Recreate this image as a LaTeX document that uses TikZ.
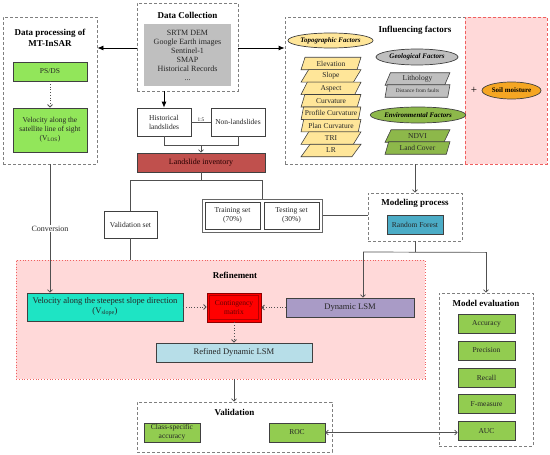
\documentclass[tikz,border=0pt]{standalone}
\usepackage{fontspec}
\setmainfont{Liberation Serif}
\usetikzlibrary{shapes.geometric,arrows.meta}
\definecolor{dashgray}{HTML}{7F7F7F}
\definecolor{boxline}{HTML}{404040}
\definecolor{lin}{HTML}{505050}
\definecolor{txt}{HTML}{262626}
\definecolor{psgreen}{HTML}{92E65A}
\definecolor{dcgray}{HTML}{BFBFBF}
\definecolor{invred}{HTML}{C0504D}
\definecolor{rfblue}{HTML}{4BACC6}
\definecolor{pinkbg}{HTML}{FFD9D9}
\definecolor{pinkline}{HTML}{F06060}
\definecolor{turq}{HTML}{1EE4C4}
\definecolor{purp}{HTML}{A99BC6}
\definecolor{lblue}{HTML}{B7DEE8}
\definecolor{evgreen}{HTML}{92CC50}
\definecolor{topoyel}{HTML}{FFE699}
\definecolor{envgreen}{HTML}{8DB84A}
\definecolor{soilor}{HTML}{F5A623}
\newcommand\fsT{\fontsize{9}{11}\selectfont}
\newcommand\fsB{\fontsize{7.5}{9}\selectfont}
\newcommand\fsC{\fontsize{8}{9}\selectfont}
\newcommand\fsD{\fontsize{8.6}{10}\selectfont}
\newcommand\fsE{\fontsize{7}{8}\selectfont}
\newcommand\fsS{\fontsize{5.3}{6}\selectfont}
\begin{document}
\begin{tikzpicture}[x=1pt,y=-1pt,
  box/.style={draw=boxline, line width=0.7pt, inner sep=0pt, align=center, text=txt, font=\fsB},
  dbox/.style={draw=dashgray, line width=0.8pt, dash pattern=on 3pt off 2pt, inner sep=0pt},
  ttl/.style={font=\fsT\bfseries, text=black, inner sep=0pt, align=center},
  arr/.style={draw=lin, line width=0.7pt, -{Straight Barb[length=2.5pt,width=5pt]}},
  farr/.style={draw=black, line width=0.8pt, -{Latex[length=6pt,width=5pt]}},
  dotarr/.style={arr, dotted, line width=0.9pt},
  ln/.style={draw=lin, line width=0.7pt},
  para/.style={trapezium, trapezium left angle=67, trapezium right angle=113, trapezium stretches=true, minimum width=60pt, minimum height=12.5pt, inner sep=0pt, draw=boxline, line width=0.6pt, font=\fsB, text=txt},
  ell/.style={ellipse, draw=boxline, line width=0.7pt, inner sep=0pt, font=\fsE\bfseries\itshape, text=black}
]
\useasboundingbox (0,0) rectangle (550,455);

% ---------------- MT-InSAR
\node[dbox, minimum width=94pt, minimum height=147pt] (mt) at (50,90.5) {};
\node[ttl] (mtt) at (50,37.5) {Data processing of\\MT-InSAR};
\node[box, fill=psgreen, minimum width=74pt, minimum height=19pt] (psds) at (50,71.5) {PS/DS};
\node[box, fill=psgreen, minimum width=74pt, minimum height=44pt] (vlos) at (50,130) {Velocity along the\\satellite line of sight\\(V\textsubscript{LOS})};
\draw[dotarr] (psds.south) -- (vlos.north);

% ---------------- Data collection
\node[dbox, minimum width=101pt, minimum height=88pt] (dc) at (187.5,47) {};
\node[ttl] (dct) at (187.5,15) {Data Collection};
\node[draw=none, fill=dcgray, minimum width=87pt, minimum height=62pt, inner sep=0pt, align=center, font=\fsC, text=txt] (dcg) at (187.5,55) {SRTM DEM\\Google Earth images\\Sentinel-1\\SMAP\\Historical Records\\...};

% ---------------- Influencing factors
\node[dbox, minimum width=262pt, minimum height=147pt] (inf) at (416,90.5) {};
\node[fill=pinkbg, draw=pinkline, line width=0.8pt, dash pattern=on 3pt off 2pt, minimum width=82pt, minimum height=147pt, inner sep=0pt] (soilreg) at (506,90.5) {};
\node[ttl] (inft) at (415,30) {Influencing factors};
\node[ell, fill=topoyel, minimum width=83pt, minimum height=15pt] (topo) at (330.5,40.5) {Topographic Factors};
\foreach \t [count=\i from 0] in {Elevation,Slope,Aspect,Curvature,Profile Curvature,Plan Curvature,TRI,LR}{
  \node[para, fill=topoyel] (tp\i) at (331,63.5+12.43*\i) {\t};
}
\node[ell, fill=dcgray, minimum width=82pt, minimum height=16pt] (geo) at (417,57) {Geological Factors};
\node[para, fill=dcgray, minimum width=65pt] (lith) at (417.5,79) {Lithology};
\node[para, fill=dcgray, minimum width=65pt, font=\fsS] (dist) at (417.5,91) {Distance from faults};
\node[ell, fill=envgreen, minimum width=82pt, minimum height=16pt] (env) at (418,115) {Environmental Factors};
\node[para, fill=envgreen, minimum width=65pt] (ndvi) at (417.5,136) {NDVI};
\node[para, fill=envgreen, minimum width=65pt] (lc) at (417.5,148) {Land Cover};
\node[inner sep=0pt, font=\fontsize{11}{12}\selectfont, text=black] (plus) at (474,90) {+};
\node[ellipse, draw=boxline, line width=0.7pt, fill=soilor, inner sep=0pt, minimum width=59pt, minimum height=17pt, font=\fsE\bfseries, text=black] (soil) at (511.5,90.5) {Soil moisture};

\draw[farr] (dc.west |- 0,48) -- (mt.east |- 0,48);
\draw[farr] (dc.east |- 0,48) -- (inf.west |- 0,48);

% ---------------- Landslides
\node[box, fill=white, minimum width=54pt, minimum height=28pt] (hist) at (164,122) {Historical\\landslides};
\node[box, fill=white, minimum width=54pt, minimum height=28pt] (non) at (238,122) {Non-landslides};
\draw[farr] (hist.north |- dc.south) -- (hist.north);
\draw[ln] (hist.east) -- (non.west) node[midway, above=0.5pt, inner sep=0pt, font=\fsS, text=txt] {1:5};
\node[box, fill=invred, minimum width=128pt, minimum height=19pt, text=black!85!red, font=\fsC] (inv) at (201,162.5) {Landslide inventory};
\draw[ln] (hist.south) -- ++(0,9) coordinate (hj) -| (non.south);
\draw[arr] (hj -| inv.north) -- (inv.north);

\node[box, fill=white, minimum width=53pt, minimum height=27pt] (valset) at (130.5,224.5) {Validation set};
\node[draw=boxline!80, line width=1.0pt, fill=white, minimum width=120pt, minimum height=33pt, inner sep=0pt] (sets) at (262,215.5) {};
\node[box, fill=white, minimum width=55pt, minimum height=27pt] (train) at (232.5,215.5) {Training set\\(70\%)};
\node[box, fill=white, minimum width=55pt, minimum height=27pt] (test) at (291.5,215.5) {Testing set\\(30\%)};
\draw[ln] (inv.south) -- ++(0,8) coordinate (ij);
\draw[ln] (valset.north) |- (ij) -| (sets.north);

% ---------------- Modeling
\node[dbox, minimum width=94pt, minimum height=48pt] (model) at (415,217) {};
\node[ttl] (modelt) at (415,203) {Modeling process};
\node[box, fill=rfblue, minimum width=56pt, minimum height=19pt] (rf) at (415,224.5) {Random Forest};
\draw[arr] (model.north |- inf.south) -- (model.north);
\draw[ln] (sets.east) -- (sets.east -| model.west);

% ---------------- Refinement
\node[fill=pinkbg, draw=pinkline, line width=0.8pt, dotted, minimum width=409pt, minimum height=119pt, inner sep=0pt] (refbox) at (220.5,319.5) {};
\node[ttl] (reft) at (235,275) {Refinement};
\node[box, fill=turq, minimum width=156pt, minimum height=28pt, font=\fsD] (vslope) at (105,307) {Velocity along the steepest slope direction\\(V\textsubscript{slope})};
\node[draw=red!55!black, line width=0.7pt, fill=red, minimum width=54pt, minimum height=29pt, inner sep=0pt, align=center, font=\fsB, text=red!40!black,
  path picture={\draw[red!70!black, line width=0.5pt] ([shift={(2.5pt,-2.5pt)}]path picture bounding box.north west) rectangle ([shift={(-2.5pt,2.5pt)}]path picture bounding box.south east);}] (cont) at (234,307.5) {Contingency\\matrix};
\node[box, fill=purp, minimum width=128pt, minimum height=19pt, font=\fsD] (dyn) at (350,307.5) {Dynamic LSM};
\node[box, fill=lblue, minimum width=156pt, minimum height=19pt, font=\fsD] (refined) at (234,352.5) {Refined Dynamic LSM};
\draw[dotarr] (vslope.east) -- (vslope.east -| cont.west);
\draw[dotarr] (dyn.west) -- (cont.east);
\draw[dotarr] (cont.south) -- (refined.north);
\draw[ln] (valset.south) -- (valset.south |- refbox.north);
\draw[arr] (mt.south) -- (mt.south |- vslope.north) node[midway, fill=white, inner sep=1pt, font=\fsC, text=txt] {Conversion};

% ---------------- Model evaluation
\node[dbox, minimum width=94pt, minimum height=153pt] (eval) at (486,369.5) {};
\node[ttl] (evalt) at (486,303) {Model evaluation};
\node[box, fill=evgreen, minimum width=57pt, minimum height=19pt] (acc) at (486.5,323.5) {Accuracy};
\node[box, fill=evgreen, minimum width=57pt, minimum height=19pt] (prec) at (486.5,350.5) {Precision};
\node[box, fill=evgreen, minimum width=57pt, minimum height=19pt] (rec) at (486.5,377.5) {Recall};
\node[box, fill=evgreen, minimum width=57pt, minimum height=19pt] (fm) at (486.5,404) {F-measure};
\node[box, fill=evgreen, minimum width=57pt, minimum height=19pt] (auc) at (486.5,431) {AUC};

\draw[ln] (model.south) -- ++(0,11) coordinate (mj);
\coordinate (dynj) at (363,252);
\draw[ln] (dynj) -- (mj -| eval.north);
\draw[arr] (dynj) -- (dynj |- dyn.north);
\draw[arr] (mj -| eval.north) -- (eval.north);

% ---------------- Validation
\node[dbox, minimum width=195pt, minimum height=50pt] (val) at (234.5,427) {};
\node[ttl] (valt) at (234.5,412) {Validation};
\node[box, fill=evgreen, minimum width=56pt, minimum height=19pt] (csa) at (172,432.5) {Class-specific\\accuracy};
\node[box, fill=evgreen, minimum width=56pt, minimum height=19pt] (roc) at (297,432.5) {ROC};
\draw[arr] (refined.south |- refbox.south) -- (refined.south |- val.north);
\draw[arr, {Straight Barb[length=2.5pt,width=5pt]}-{Straight Barb[length=2.5pt,width=5pt]}] (roc.east) -- (roc.east -| auc.west);
\end{tikzpicture}
\end{document}
